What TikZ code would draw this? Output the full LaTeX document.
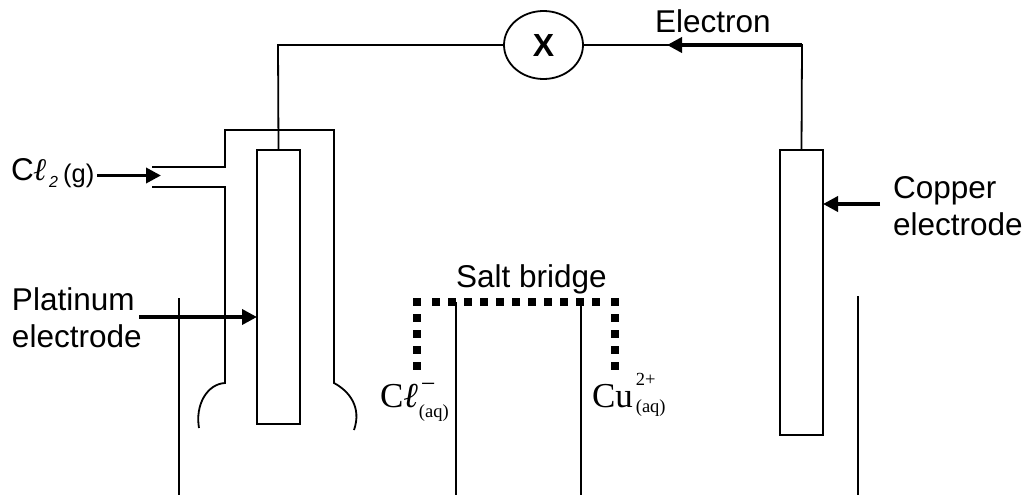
\documentclass[tikz,border=0pt]{standalone}
\usepackage{amsmath,amssymb}
\usepackage{fontspec}
\setmainfont{Liberation Sans}
\newfontfamily\timesfont{Liberation Serif}
\usepackage{tikz}
\usetikzlibrary{arrows.meta,positioning,shapes.geometric}

\newcommand{\sizeA}{\fontsize{31.5}{37}\selectfont}
\newcommand{\sizeB}{\fontsize{35}{37}\selectfont}
\newcommand{\sizeC}{\fontsize{18.5}{22}\selectfont}
% symbol, then what stands over it and under it, with their raises
\newcommand{\ionlabel}[5]{{\timesfont\sizeB #1\rlap{\raisebox{#3}{\sizeC #2}}\raisebox{#5}{\sizeC #4}}}

\tikzset{
	wire/.style={line width=1.8pt},
	pointer/.style={line width=3.6pt,-{Triangle[length=15pt,width=15pt]}},
	electrode/.style={rectangle,draw,line width=1.8pt,minimum width=43pt,inner sep=0pt,outer sep=0pt},
	lbl/.style={inner sep=0pt,outer sep=0pt,anchor=base west,align=left,font=\sizeA},
	bridge/.style={line width=8pt,dash pattern=on 8pt off 8pt}
}

\begin{document}
\begin{tikzpicture}[x=1pt,y=-1pt]
	\useasboundingbox (0,0) rectangle (1027,495);

	\begin{scope}
		\node[electrode,minimum height=274pt] (Pt) at (278.5,287) {};
		\node[electrode,minimum height=285pt] (Cu) at (801.5,292.5) {};
		\node[ellipse,draw,line width=1.8pt,minimum width=79pt,minimum height=68pt,inner sep=0pt,outer sep=0pt,font=\fontsize{32}{37}\selectfont\bfseries] (meter) at (543.5,45) {X};
	\end{scope}

	\node[lbl] (Cl2) at (11,180) {C{\timesfont\bfseries\itshape ℓ}\hspace{2pt}\raisebox{-7pt}{\fontsize{16}{18}\selectfont\itshape 2}\hspace{5pt}\raisebox{-2pt}{\fontsize{25.5}{28}\selectfont(g)}};
	\node[lbl] (platinum) at (12,347) {Platinum\\[0pt]electrode};
	\node[lbl] (copper) at (893,235) {Copper\\[0pt]electrode};
	\node[lbl] (electron) at (655,33) {Electron};
	\node[lbl] (salt) at (456,287) {Salt bridge};
	\node[lbl] (ClAq) at (380,407) {\ionlabel{C\itshape ℓ\upshape\hspace{1pt}}{\hspace{2pt}\fontsize{26}{28}\selectfont−}{15pt}{(aq)}{-10pt}};
	\node[lbl] (CuAq) at (592,407) {\ionlabel{Cu\hspace{3pt}}{2+}{22pt}{(aq)}{-5pt}};

	% wire through the meter
	\coordinate (cornerL) at (278,45);
	\coordinate (cornerR) at (802,45);
	\draw[wire] (Pt.north) -- (cornerL) -- (meter.west);
	\draw[wire] (meter.east) -- (cornerR) -- (Cu.north);

	% gas hood
	\coordinate (inA) at (152,167);
	\coordinate (inB) at (152,187);
	\coordinate (hoodA) at (225,167);
	\coordinate (hoodB) at (225,187);
	\coordinate (hoodC) at (225,130);
	\coordinate (hoodD) at (334,130);
	\coordinate (hoodE) at (334,383);
	\coordinate (hoodF) at (225,383);
	\draw[wire] (inA) -- (hoodA) -- (hoodC) -- (hoodD) -- (hoodE) .. controls (349,391) and (362,407) .. (354,430);
	\draw[wire] (inB) -- (hoodB) -- (hoodF) .. controls (207,384) and (195,405) .. (199,428);

	% beakers
	\coordinate (b1t) at (179,298);
	\coordinate (b1b) at (179,495);
	\coordinate (b2t) at (456,302);
	\coordinate (b2b) at (456,495);
	\coordinate (b3t) at (581,302);
	\coordinate (b3b) at (581,495);
	\coordinate (b4t) at (858,296);
	\coordinate (b4b) at (858,495);
	\draw[wire] (b1t) -- (b1b);
	\draw[wire] (b2t) -- (b2b);
	\draw[wire] (b3t) -- (b3b);
	\draw[wire] (b4t) -- (b4b);

	% salt bridge
	\coordinate (sbA) at (417,298);
	\coordinate (sbB) at (417,370);
	\coordinate (sbC) at (432,302);
	\coordinate (sbD) at (600,302);
	\coordinate (sbE) at (615,298);
	\coordinate (sbF) at (615,370);
	\draw[bridge] (sbA) -- (sbB);
	\draw[bridge] (sbC) -- (sbD);
	\draw[bridge] (sbE) -- (sbF);

	% arrows
	\coordinate (a1) at (97,175.5);
	\coordinate (a1e) at (161,175.5);
	\coordinate (a2) at (139,317);
	\coordinate (a3) at (880,204);
	\coordinate (a4) at (667,45);
	\draw[pointer] (a1) -- (a1e);
	\draw[pointer] (a2) -- (a2-|Pt.west);
	\draw[pointer] (a3) -- (a3-|Cu.east);
	\draw[pointer] (cornerR) -- (a4);
\end{tikzpicture}
\end{document}
